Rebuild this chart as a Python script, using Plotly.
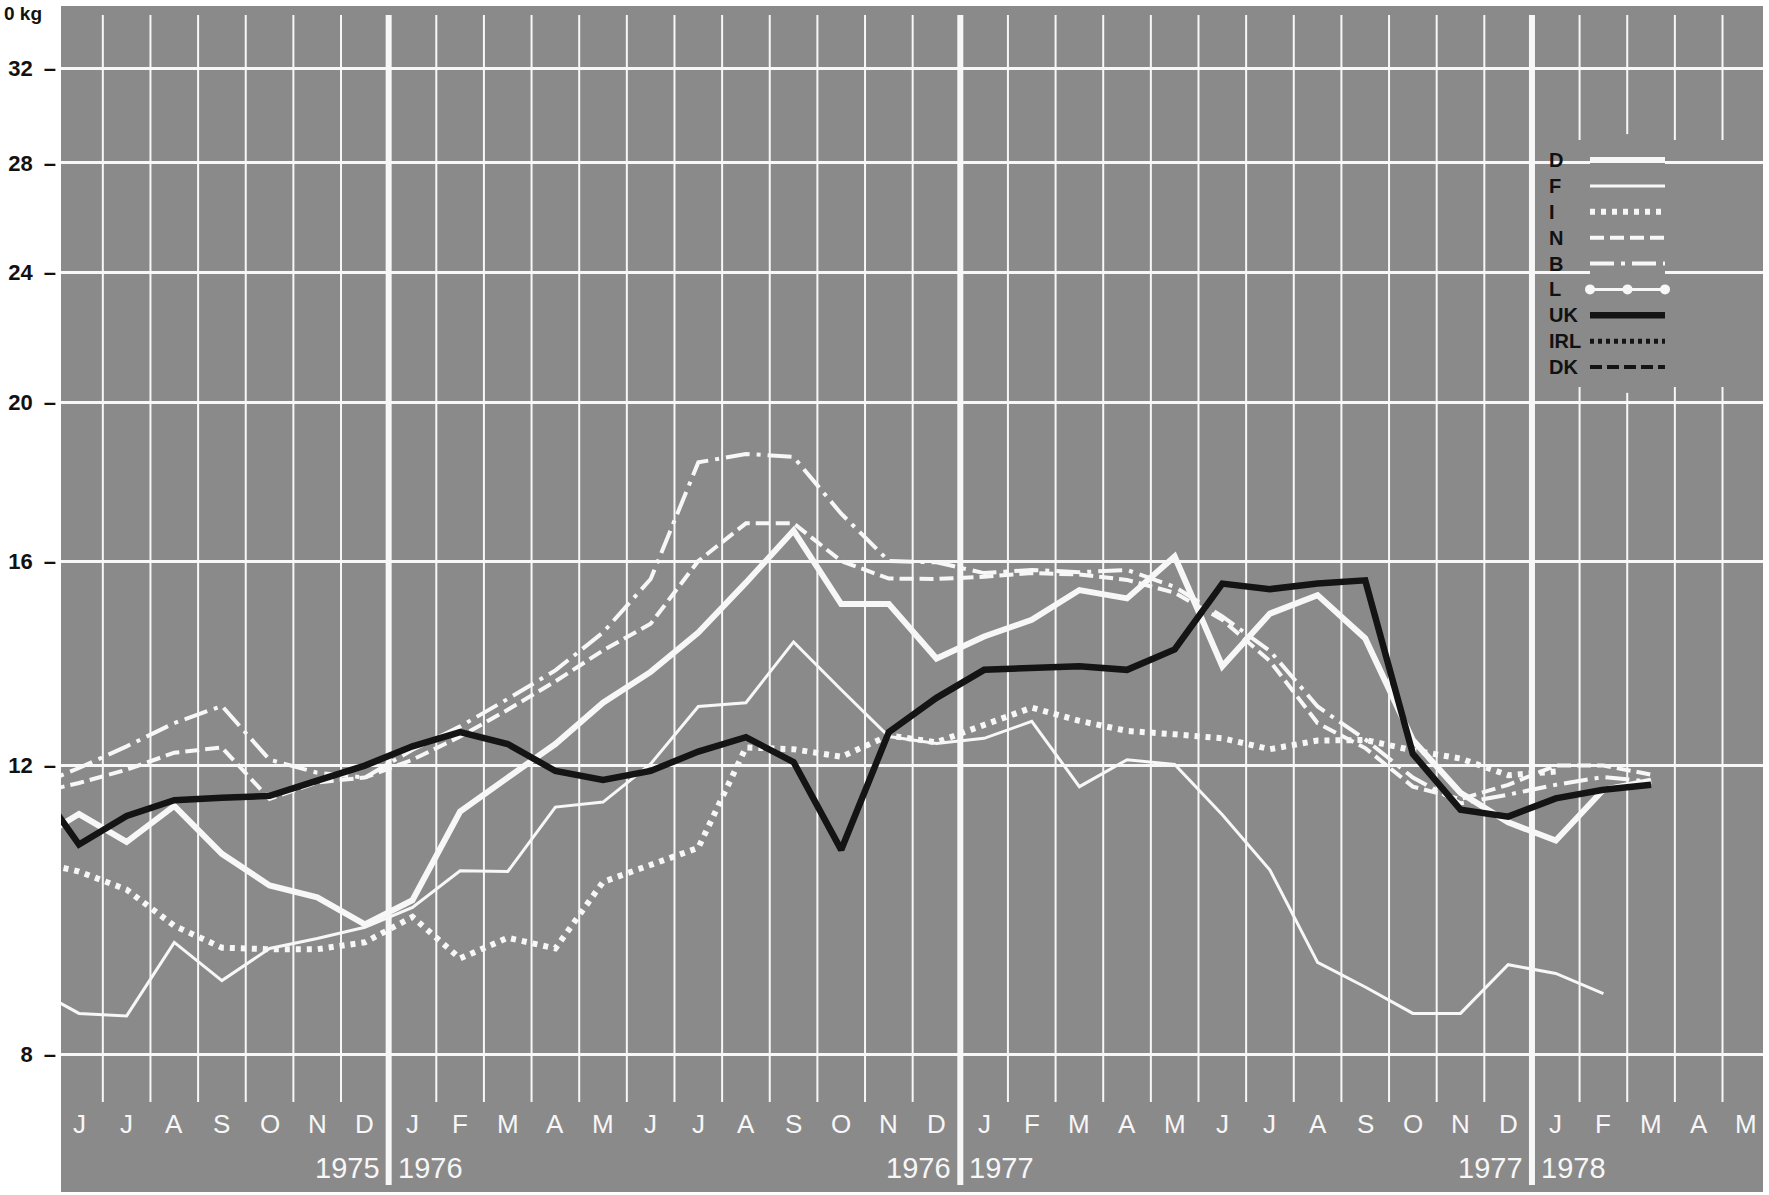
import plotly.graph_objects as go

# ---------------- data ----------------
month_letters = ["J", "F", "M", "A", "M", "J", "J", "A", "S", "O", "N", "D"]
start_year, start_month, n_months = 1975, 6, 36
periods = [(start_year + (start_month - 1 + k) // 12, (start_month - 1 + k) % 12 + 1)
           for k in range(n_months)]
month_labels = [month_letters[m - 1] for _, m in periods]

# month index: 0 = June 1975 ; -1 = May 1975 (only partly visible at the left edge)
first_index = -1

D_vals = [10.76, 11.21, 10.78, 11.34, 10.6, 10.14, 9.97, 9.6, 9.93, 11.25, 11.8, 12.37,
          13.11, 13.69, 14.47, 15.52, 16.7, 15.06, 15.06, 13.95, 14.39, 14.73, 15.36, 15.18,
          16.1, 13.8, 14.86, 15.25, 14.35, 12.44, 11.55, 11.08, 10.8, 11.6, 11.75]
F_vals = [8.79, 8.47, 8.44, 9.36, 8.87, 9.28, 9.41, 9.56, 9.83, 10.35, 10.34, 11.32,
          11.4, 12.03, 13.04, 13.11, 14.28, 13.35, 12.5, 12.38, 12.47, 12.77, 11.65, 12.1,
          12.02, 11.2, 10.36, 9.1, 8.79, 8.47, 8.47, 9.07, 8.96, 8.71]
I_vals = [10.5, 10.34, 10.08, 9.58, 9.29, 9.27, 9.27, 9.36, 9.7, 9.15, 9.42, 9.28,
          10.19, 10.44, 10.69, 12.31, 12.28, 12.15, 12.52, 12.4, 12.7, 13.02, 12.78, 12.6,
          12.54, 12.47, 12.28, 12.43, 12.44, 12.26, 12.12, 11.84, 11.9]
N_vals = [11.53, 11.71, 11.93, 12.22, 12.31, 11.45, 11.72, 11.8, 12.1, 12.5, 12.98, 13.51,
          14.11, 14.65, 16.0, 16.87, 16.87, 16.0, 15.61, 15.6, 15.65, 15.73, 15.7, 15.58,
          15.3, 14.73, 13.9, 12.74, 12.3, 11.65, 11.45, 11.68, 12.0, 12.0, 11.85]
B_vals = [11.63, 11.96, 12.33, 12.74, 13.05, 12.1, 11.88, 11.8, 12.27, 12.68, 13.18, 13.72,
          14.47, 15.6, 18.38, 18.6, 18.52, 17.1, 16.0, 15.97, 15.73, 15.8, 15.75, 15.8,
          15.43, 14.8, 14.1, 13.04, 12.45, 11.8, 11.38, 11.52, 11.68, 11.81, 11.73]
UK_vals = [11.8, 10.74, 11.18, 11.43, 11.47, 11.5, 11.75, 12.0, 12.33, 12.58, 12.37, 11.91,
           11.76, 11.91, 12.24, 12.49, 12.06, 10.66, 12.58, 13.2, 13.73, 13.78, 13.8, 13.73,
           14.13, 15.5, 15.38, 15.5, 15.57, 12.2, 11.28, 11.17, 11.46, 11.6, 11.68]

y_ticks = [8, 12, 16, 20, 24, 28, 32]
legend_names = ["D", "F", "I", "N", "B", "L", "UK", "IRL", "DK"]

# ---------------- styles ----------------
GRAY = "#8a8a8a"
WHITE = "#f7f7f7"
BLACK = "#141414"
FONT = "Liberation Sans, Arial, sans-serif"
NARROW = "Liberation Sans Narrow, Arial Narrow, Liberation Sans, sans-serif"

styles = {
    "D": dict(color=WHITE, width=6),
    "F": dict(color=WHITE, width=3),
    "I": dict(color=WHITE, width=6, dash="5px,6px"),
    "N": dict(color=WHITE, width=4, dash="14px,6px"),
    "B": dict(color=WHITE, width=4, dash="24px,7px,4px,7px"),
    "L": dict(color=WHITE, width=3),
    "UK": dict(color=BLACK, width=6.5),
    "IRL": dict(color=BLACK, width=5, dash="4px,4px"),
    "DK": dict(color=BLACK, width=4, dash="12px,5px"),
}
series = [("D", D_vals), ("F", F_vals), ("I", I_vals), ("N", N_vals),
          ("B", B_vals), ("UK", UK_vals)]

# ---------------- geometry (plot area in page pixels) ----------------
W, H = 1769, 1195
L_M, R_M, T_M, B_M = 61, 6, 6, 3
x_range = [-0.378, 35.35]
y_range = [0.81883, 1.54301]


def py(pix_y):
    """page pixel y -> paper y"""
    return (H - B_M - pix_y) / (H - T_M - B_M)


def px(pix_x):
    """page pixel x -> paper x"""
    return (pix_x - L_M) / (W - L_M - R_M)


fig = go.Figure()
for name, vals in series:
    xs = list(range(first_index, first_index + len(vals)))
    fig.add_trace(go.Scatter(x=xs, y=vals, mode="lines", line=styles[name],
                             name=name, showlegend=False, hoverinfo="skip"))

# legend samples on an inset axis (row index = legend order)
leg_top, leg_bottom = 160, 367
row_h = (leg_bottom - leg_top) / (len(legend_names) - 1)
for row, name in enumerate(legend_names):
    if name == "L":
        fig.add_trace(go.Scatter(x=[0, 0.5, 1], y=[row] * 3, mode="lines+markers",
                                 line=styles[name], marker=dict(color=WHITE, size=10),
                                 cliponaxis=False,
                                 xaxis="x2", yaxis="y2", showlegend=False, hoverinfo="skip"))
    else:
        fig.add_trace(go.Scatter(x=[0, 1], y=[row, row], mode="lines", line=styles[name],
                                 cliponaxis=False,
                                 xaxis="x2", yaxis="y2", showlegend=False, hoverinfo="skip"))
    fig.add_annotation(x=px(1547), y=py(leg_top + row * row_h), xref="paper", yref="paper",
                       text=name, showarrow=False, xanchor="left", yanchor="middle",
                       font=dict(family=FONT, size=20, color="#111111", weight=700))

# month and year separator lines
for k in range(1, n_months):
    b = k - 0.5
    is_year = periods[k][1] == 1
    fig.add_shape(type="line", xref="x", yref="paper", x0=b, x1=b,
                  y0=py(1185) if is_year else py(1102), y1=py(15),
                  line=dict(color=WHITE, width=6 if is_year else 2), layer="between")
    if is_year:
        fig.add_annotation(x=b, y=py(1168), xref="x", yref="paper", text=str(periods[k - 1][0]),
                           showarrow=False, xanchor="right", yanchor="middle", xshift=-7,
                           font=dict(family=NARROW, size=29, color=WHITE))
        fig.add_annotation(x=b, y=py(1168), xref="x", yref="paper", text=str(periods[k][0]),
                           showarrow=False, xanchor="left", yanchor="middle", xshift=7,
                           font=dict(family=NARROW, size=29, color=WHITE))

# blank legend box (no grid inside)
fig.add_shape(type="rect", xref="x", yref="paper", x0=30.58, x1=x_range[1],
              y0=py(387), y1=py(140), line=dict(width=0), fillcolor=GRAY, layer="between")

# month letters
for k, lab in enumerate(month_labels):
    fig.add_annotation(x=k, y=py(1124), xref="x", yref="paper", text=lab, showarrow=False,
                       xanchor="center", yanchor="middle",
                       font=dict(family=FONT, size=26, color=WHITE))

# unit label (cropped in the original)
fig.add_annotation(x=px(2), y=py(14), xref="paper", yref="paper", text="0 kg",
                   showarrow=False, xanchor="left", yanchor="middle",
                   font=dict(family=FONT, size=19, color="#111111", weight=700))

fig.update_layout(
    width=W, height=H,
    margin=dict(l=L_M, r=R_M, t=T_M, b=B_M, pad=0),
    paper_bgcolor="white", plot_bgcolor=GRAY,
    showlegend=False,
    xaxis=dict(range=x_range, showgrid=False, zeroline=False, showticklabels=False,
               ticks="", showline=False),
    yaxis=dict(type="log", range=y_range, tickvals=y_ticks,
               ticktext=[f"{v}\u2002\u2013" for v in y_ticks],
               showgrid=True, gridcolor=WHITE, gridwidth=2.5, zeroline=False, ticks="",
               showline=False, ticklabelstandoff=4,
               tickfont=dict(family=FONT, size=22, color="#111111", weight=700)),
    xaxis2=dict(domain=[px(1590), px(1665)], range=[0, 1], visible=False, anchor="y2"),
    yaxis2=dict(domain=[py(leg_bottom + row_h), py(leg_top - row_h)],
                range=[len(legend_names), -1], visible=False, anchor="x2"),
)

fig.write_html("out.html", config={"displayModeBar": False},
               post_script="document.body.style.margin='0';document.body.style.overflow='hidden';")
